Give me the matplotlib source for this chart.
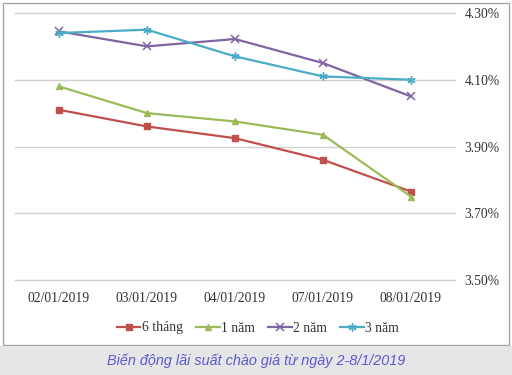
import matplotlib
matplotlib.use("Agg")
import matplotlib.pyplot as plt
from matplotlib.patches import Rectangle

# data
dates = ["02/01/2019", "03/01/2019", "04/01/2019", "07/01/2019", "08/01/2019"]
thang6 = [4.01, 3.96, 3.925, 3.86, 3.765]
nam1 = [4.08, 4.00, 3.975, 3.935, 3.75]
nam2 = [4.245, 4.20, 4.222, 4.15, 4.05]
nam3 = [4.24, 4.25, 4.17, 4.11, 4.10]
yticks = [3.50, 3.70, 3.90, 4.10, 4.30]
caption = "Biến động lãi suất chào giá từ ngày 2-8/1/2019"

fig = plt.figure(figsize=(5.12, 3.75), dpi=100)

# outer frame of the chart and the grey caption strip
fig.patches.append(Rectangle((3/512, 1 - 345/375), 506/512, 342/375, transform=fig.transFigure,
                             facecolor="white", edgecolor="#a6a6a6", lw=1.0, zorder=-2))
fig.patches.append(Rectangle((0, 0), 1, 29/375, transform=fig.transFigure,
                             facecolor="#e6e6e6", edgecolor="none", zorder=-2))

ax = fig.add_axes([15/512, 1 - 280/375, 440/512, 267/375])
ax.set_facecolor("none")
x = range(len(dates))

ax.plot(x, thang6, color="#c0504d", marker="s", ms=5, lw=1.6, label="6 tháng")
ax.plot(x, nam1, color="#9bbb59", marker="^", ms=5, lw=1.6, label="1 năm")
ax.plot(x, nam2, color="#8064a2", marker="x", ms=6, mew=1.1, lw=1.6, label="2 năm")
ax.plot(x, nam3, color="#4bacc6", marker=(6, 2, 0), ms=6, mew=1.0, lw=1.6, label="3 năm")

ax.set_xlim(-0.5, 4.5)
ax.set_ylim(3.5, 4.3)
ax.set_yticks(yticks)
ax.set_yticklabels([f"{v:.2f}%" for v in yticks])
ax.yaxis.tick_right()
ax.set_xticks(list(x))
ax.set_xticklabels(dates)
ax.tick_params(length=0, labelsize=9.8, colors="#333333")
ax.tick_params(axis="y", pad=7)
ax.tick_params(axis="x", pad=9)
for lab in ax.get_xticklabels() + ax.get_yticklabels():
    lab.set_fontfamily("Liberation Serif")
ax.grid(axis="y", color="#d0d0d0", lw=1.0)
for gl in ax.get_ygridlines():
    gl.set_clip_on(False)
ax.set_axisbelow(True)
for s in ax.spines.values():
    s.set_visible(False)

fig.legend(loc="center", bbox_to_anchor=(258/512, 1 - 328/375), ncol=4, frameon=False,
           prop={"family": "Liberation Serif", "size": 9.8}, handlelength=1.7,
           handletextpad=0.1, columnspacing=1.0, labelcolor="#333333")

fig.text(0.5, 1 - 361/375, caption, ha="center", va="center", fontsize=10.4,
         style="italic", color="#5a5acc", family="Liberation Sans")

fig.savefig("out.png", dpi=100)
